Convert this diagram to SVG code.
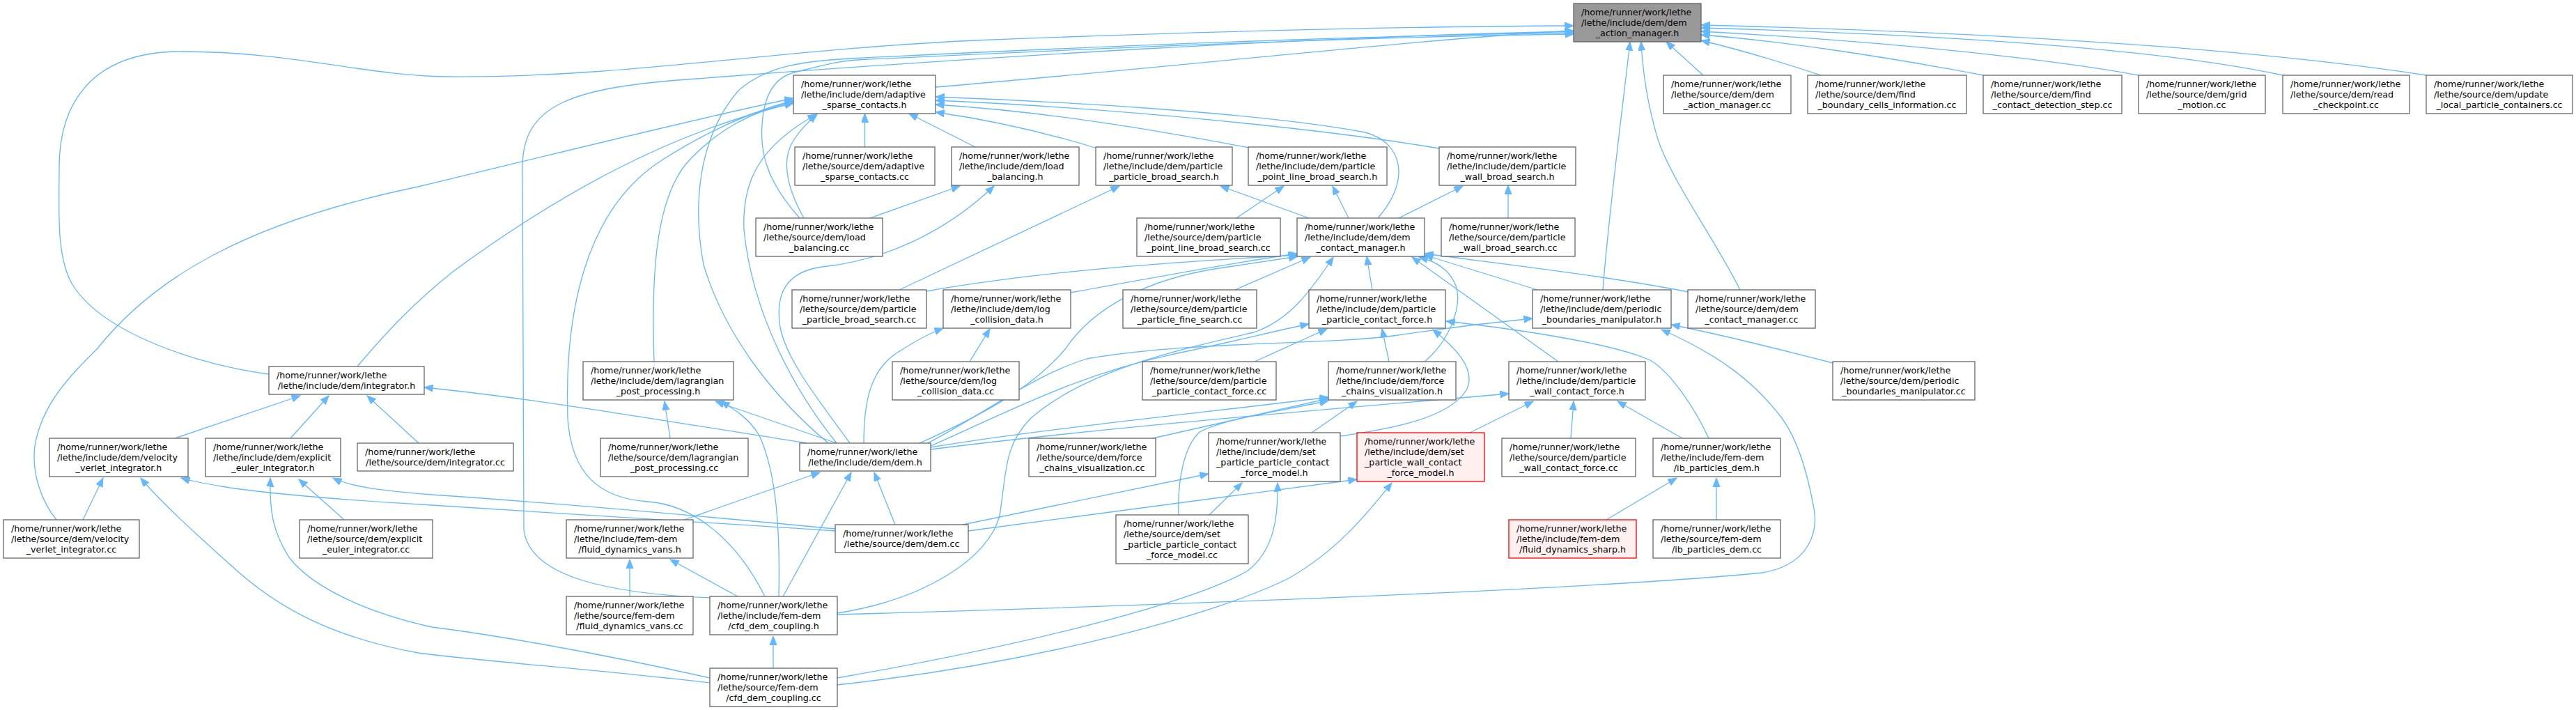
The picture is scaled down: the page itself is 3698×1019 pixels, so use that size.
<svg xmlns="http://www.w3.org/2000/svg" width="3698" height="1019" viewBox="0 0 3698 1019">
<defs>
<style>
.node rect{fill:#ffffff;stroke:#666666;stroke-width:1.3}
.main rect{fill:#999999}
.red rect{fill:#FFF0F0;stroke:#FF0000}
text{font-family:"DejaVu Sans",sans-serif;font-size:12.7px;fill:#000000}
.m{text-anchor:middle}
.edges path{fill:none;stroke:#63B8FF;stroke-width:1.3;marker-end:url(#arr)}
</style>
<marker id="arr" markerUnits="userSpaceOnUse" markerWidth="14" markerHeight="12" refX="12.5" refY="5" orient="auto"><path d="M0,0 L12.5,5 L0,10 z" fill="#63B8FF" stroke="#63B8FF" stroke-width="1"/></marker>
</defs>
<rect width="3698" height="1019" fill="#ffffff"/>
<g class="edges">
<path d="M1343,125 C1700,95 2050,55 2259,44"/>
<path d="M386,537 C290,525 150,480 105,410 C80,370 85,300 85,240 C85,150 130,74 260,74 C420,74 520,108 640,110 C900,112 1100,72 1400,58 C1800,42 2050,38 2259,37"/>
<path d="M1019,858 C880,852 760,830 752,760 L750,240 C750,150 820,125 1000,113 C1400,82 1900,52 2259,45"/>
<path d="M1189,636 C1110,570 1040,480 1010,380 C995,300 1000,200 1060,130 C1100,95 1150,88 1220,84 C1600,65 2000,50 2259,47"/>
<path d="M1148,313 C1110,270 1090,230 1094,180 C1096,140 1110,112 1140,104 C1180,94 1200,88 1230,86 C1600,68 2000,52 2259,49"/>
<path d="M2301,416 C2310,300 2330,150 2340,60"/>
<path d="M2498,416 C2460,340 2400,260 2380,200 C2365,150 2358,100 2356,60"/>
<path d="M2445,108 L2392,60"/>
<path d="M2614,108 C2560,90 2500,72 2442,58"/>
<path d="M2847,108 C2700,80 2550,58 2442,50"/>
<path d="M3070,108 C3000,95 2800,65 2442,45"/>
<path d="M3277,108 C3100,70 2800,50 2442,40"/>
<path d="M3483,108 C3200,65 2800,45 2442,36"/>
<path d="M1241.5,211 L1241.5,163"/>
<path d="M1400,211 L1305,163"/>
<path d="M1572,212 C1500,190 1420,172 1343,161"/>
<path d="M1793,212 C1650,185 1500,160 1343,150"/>
<path d="M2066,213 C1900,185 1600,155 1343,144"/>
<path d="M1978,313 C2025,260 2015,205 1960,190 C1800,160 1500,145 1343,139"/>
<path d="M1201,636 C1140,560 1080,450 1068,330 C1065,260 1090,210 1172,164"/>
<path d="M513,526 C560,470 600,430 650,390 C800,280 960,190 1139,148"/>
<path d="M939,519 C935,400 940,290 985,235 C1030,185 1080,160 1139,146"/>
<path d="M1098,856 C1060,780 1000,725 930,720 C860,715 820,680 815,600 C810,450 840,300 950,230 C1020,185 1080,160 1139,144"/>
<path d="M1154,313 C1130,270 1120,230 1140,200 C1150,185 1160,175 1173,164"/>
<path d="M81,746 C60,720 45,680 50,640 C60,580 100,540 140,500 C220,400 350,320 600,268 C800,220 1000,170 1139,141"/>
<path d="M1249,313 L1378,267"/>
<path d="M1220,636 C1180,580 1130,520 1120,470 C1112,420 1130,390 1180,383 C1260,375 1350,340 1427,267"/>
<path d="M1291,416 L1607,267"/>
<path d="M1879,313 L1752,267"/>
<path d="M1775,313 L1843,267"/>
<path d="M1936,313 L1913,267"/>
<path d="M2008,313 L2100,267"/>
<path d="M2165,313 L2165,266"/>
<path d="M1330,418 C1500,388 1700,375 1862,366"/>
<path d="M1537,420 C1650,400 1750,380 1862,364"/>
<path d="M1773,416 L1881,369"/>
<path d="M1970,416 L1962,368"/>
<path d="M2207,416 L2045,366"/>
<path d="M2424,419 C2300,395 2150,378 2045,364"/>
<path d="M2045,519 C2080,490 2100,440 2090,410 C2080,385 2060,375 2037,369"/>
<path d="M2237,519 L2027,369"/>
<path d="M1318,637 C1400,600 1480,560 1530,500 C1570,440 1650,400 1750,385 L1863,368"/>
<path d="M1202,880 C1330,860 1420,800 1435,740 C1445,680 1440,640 1480,600 C1560,530 1700,500 1800,477 C1850,460 1880,420 1914,369"/>
<path d="M1240,636 C1240,580 1248,530 1290,505 C1310,492 1330,480 1354,471"/>
<path d="M1392,519 L1421,472"/>
<path d="M1801,519 L1905,472"/>
<path d="M1994,519 L1984,472"/>
<path d="M1924,626 C2000,615 2080,600 2105,560 C2120,530 2090,500 2057,473"/>
<path d="M2453,629 C2435,590 2400,535 2369,517 C2320,495 2200,475 2076,461"/>
<path d="M1336,640 C1450,590 1550,535 1700,505 C1780,488 1830,475 1879,465"/>
<path d="M2631,521 C2550,500 2470,480 2399,466"/>
<path d="M1202,882 C1700,868 2300,845 2530,822 C2600,810 2610,760 2604,730 C2595,680 2580,630 2558,600 C2520,550 2470,510 2385,473"/>
<path d="M1330,637 C1420,590 1480,540 1560,515 C1700,490 1900,495 2000,482 C2080,470 2150,462 2200,457"/>
<path d="M251,629 L431,568"/>
<path d="M417,629 L472,568"/>
<path d="M601,636 L527,568"/>
<path d="M1158,636 C900,595 750,570 609,556"/>
<path d="M962,629 L954,576"/>
<path d="M1201,636 L1027,576"/>
<path d="M1118,856 C1120,760 1115,680 1090,625 C1075,600 1055,588 1035,576"/>
<path d="M1655,629 L1907,572"/>
<path d="M1336,642 C1500,615 1750,590 1907,570"/>
<path d="M1883,621 L1948,576"/>
<path d="M1692,739 C1690,690 1700,640 1722,620 C1760,600 1840,590 1907,575"/>
<path d="M2110,621 L2201,576"/>
<path d="M2255,629 L2259,576"/>
<path d="M2415,629 L2322,576"/>
<path d="M1336,645 C1600,612 1900,588 2166,565"/>
<path d="M119,746 L148,686"/>
<path d="M1019,980 C850,960 700,950 600,937 C480,915 400,875 330,810 C280,765 230,720 202,686"/>
<path d="M1199,762 C1000,748 800,735 620,725 C500,718 400,710 330,700 C300,695 280,692 260,686"/>
<path d="M494,746 L429,688"/>
<path d="M1019,973 C850,935 700,910 620,900 C530,880 450,845 415,800 C390,760 387,730 388,686"/>
<path d="M1199,759 C1000,740 800,722 620,710 C540,704 500,697 478,686"/>
<path d="M982,746 L1177,678"/>
<path d="M1124,856 L1222,678"/>
<path d="M1285,753 L1255,678"/>
<path d="M904,856 L904,803"/>
<path d="M1059,856 L962,803"/>
<path d="M1110,959 L1110,913"/>
<path d="M1382,753 L1735,680"/>
<path d="M1736,739 L1783,693"/>
<path d="M1202,973 C1450,930 1700,870 1790,820 C1830,790 1835,740 1834,693"/>
<path d="M1390,762 L1948,688"/>
<path d="M1202,983 C1500,950 1750,880 1850,830 C1920,790 1960,740 1998,693"/>
<path d="M2306,746 L2407,686"/>
<path d="M2464,746 L2464,686"/>
</g>
<g id="node-main" class="node main"><rect x="2259" y="5" width="183" height="55"/><text x="2270" y="21.5">/home/runner/work/lethe</text><text x="2270" y="36.5">/lethe/include/dem/dem</text><text class="m" x="2350.5" y="51.5">_action_manager.h</text></g>
<g id="node-adaptive_h" class="node"><rect x="1139" y="108" width="204" height="55"/><text x="1150" y="124.5">/home/runner/work/lethe</text><text x="1150" y="139.5">/lethe/include/dem/adaptive</text><text class="m" x="1241" y="154.5">_sparse_contacts.h</text></g>
<g id="node-dam_cc" class="node"><rect x="2388" y="108" width="183" height="55"/><text x="2399" y="124.5">/home/runner/work/lethe</text><text x="2399" y="139.5">/lethe/source/dem/dem</text><text class="m" x="2479.5" y="154.5">_action_manager.cc</text></g>
<g id="node-fbci_cc" class="node"><rect x="2595" y="108" width="228" height="55"/><text x="2606" y="124.5">/home/runner/work/lethe</text><text x="2606" y="139.5">/lethe/source/dem/find</text><text class="m" x="2709" y="154.5">_boundary_cells_information.cc</text></g>
<g id="node-fcds_cc" class="node"><rect x="2847" y="108" width="199" height="55"/><text x="2858" y="124.5">/home/runner/work/lethe</text><text x="2858" y="139.5">/lethe/source/dem/find</text><text class="m" x="2946.5" y="154.5">_contact_detection_step.cc</text></g>
<g id="node-gm_cc" class="node"><rect x="3070" y="108" width="182" height="55"/><text x="3081" y="124.5">/home/runner/work/lethe</text><text x="3081" y="139.5">/lethe/source/dem/grid</text><text class="m" x="3161" y="154.5">_motion.cc</text></g>
<g id="node-rc_cc" class="node"><rect x="3277" y="108" width="182" height="55"/><text x="3288" y="124.5">/home/runner/work/lethe</text><text x="3288" y="139.5">/lethe/source/dem/read</text><text class="m" x="3368" y="154.5">_checkpoint.cc</text></g>
<g id="node-ulpc_cc" class="node"><rect x="3483" y="108" width="210" height="55"/><text x="3494" y="124.5">/home/runner/work/lethe</text><text x="3494" y="139.5">/lethe/source/dem/update</text><text class="m" x="3588" y="154.5">_local_particle_containers.cc</text></g>
<g id="node-adaptive_cc" class="node"><rect x="1141" y="211" width="201" height="55"/><text x="1152" y="227.5">/home/runner/work/lethe</text><text x="1152" y="242.5">/lethe/source/dem/adaptive</text><text class="m" x="1241.5" y="257.5">_sparse_contacts.cc</text></g>
<g id="node-lb_h" class="node"><rect x="1366" y="211" width="183" height="55"/><text x="1377" y="227.5">/home/runner/work/lethe</text><text x="1377" y="242.5">/lethe/include/dem/load</text><text class="m" x="1457.5" y="257.5">_balancing.h</text></g>
<g id="node-ppbs_h" class="node"><rect x="1573" y="211" width="196" height="55"/><text x="1584" y="227.5">/home/runner/work/lethe</text><text x="1584" y="242.5">/lethe/include/dem/particle</text><text class="m" x="1671" y="257.5">_particle_broad_search.h</text></g>
<g id="node-pplbs_h" class="node"><rect x="1792" y="211" width="199" height="55"/><text x="1803" y="227.5">/home/runner/work/lethe</text><text x="1803" y="242.5">/lethe/include/dem/particle</text><text class="m" x="1891.5" y="257.5">_point_line_broad_search.h</text></g>
<g id="node-pwbs_h" class="node"><rect x="2066" y="211" width="196" height="55"/><text x="2077" y="227.5">/home/runner/work/lethe</text><text x="2077" y="242.5">/lethe/include/dem/particle</text><text class="m" x="2164" y="257.5">_wall_broad_search.h</text></g>
<g id="node-lb_cc" class="node"><rect x="1085" y="313" width="182" height="55"/><text x="1096" y="329.5">/home/runner/work/lethe</text><text x="1096" y="344.5">/lethe/source/dem/load</text><text class="m" x="1176" y="359.5">_balancing.cc</text></g>
<g id="node-pplbs_cc" class="node"><rect x="1632" y="313" width="206" height="55"/><text x="1643" y="329.5">/home/runner/work/lethe</text><text x="1643" y="344.5">/lethe/source/dem/particle</text><text class="m" x="1735" y="359.5">_point_line_broad_search.cc</text></g>
<g id="node-dcm_h" class="node"><rect x="1862" y="313" width="183" height="55"/><text x="1873" y="329.5">/home/runner/work/lethe</text><text x="1873" y="344.5">/lethe/include/dem/dem</text><text class="m" x="1953.5" y="359.5">_contact_manager.h</text></g>
<g id="node-pwbs_cc" class="node"><rect x="2069" y="313" width="192" height="55"/><text x="2080" y="329.5">/home/runner/work/lethe</text><text x="2080" y="344.5">/lethe/source/dem/particle</text><text class="m" x="2165" y="359.5">_wall_broad_search.cc</text></g>
<g id="node-ppbs_cc" class="node"><rect x="1137" y="416" width="193" height="55"/><text x="1148" y="432.5">/home/runner/work/lethe</text><text x="1148" y="447.5">/lethe/source/dem/particle</text><text class="m" x="1233.5" y="462.5">_particle_broad_search.cc</text></g>
<g id="node-lcd_h" class="node"><rect x="1354" y="416" width="183" height="55"/><text x="1365" y="432.5">/home/runner/work/lethe</text><text x="1365" y="447.5">/lethe/include/dem/log</text><text class="m" x="1445.5" y="462.5">_collision_data.h</text></g>
<g id="node-ppfs_cc" class="node"><rect x="1612" y="416" width="192" height="55"/><text x="1623" y="432.5">/home/runner/work/lethe</text><text x="1623" y="447.5">/lethe/source/dem/particle</text><text class="m" x="1708" y="462.5">_particle_fine_search.cc</text></g>
<g id="node-ppcf_h" class="node"><rect x="1879" y="416" width="196" height="55"/><text x="1890" y="432.5">/home/runner/work/lethe</text><text x="1890" y="447.5">/lethe/include/dem/particle</text><text class="m" x="1977" y="462.5">_particle_contact_force.h</text></g>
<g id="node-pbm_h" class="node"><rect x="2200" y="416" width="199" height="55"/><text x="2211" y="432.5">/home/runner/work/lethe</text><text x="2211" y="447.5">/lethe/include/dem/periodic</text><text class="m" x="2299.5" y="462.5">_boundaries_manipulator.h</text></g>
<g id="node-dcm_cc" class="node"><rect x="2423" y="416" width="183" height="55"/><text x="2434" y="432.5">/home/runner/work/lethe</text><text x="2434" y="447.5">/lethe/source/dem/dem</text><text class="m" x="2514.5" y="462.5">_contact_manager.cc</text></g>
<g id="node-int_h" class="node"><rect x="386" y="526" width="223" height="40"/><text x="397" y="542.5">/home/runner/work/lethe</text><text class="m" x="497.5" y="557.5">/lethe/include/dem/integrator.h</text></g>
<g id="node-lpp_h" class="node"><rect x="837" y="519" width="216" height="55"/><text x="848" y="535.5">/home/runner/work/lethe</text><text x="848" y="550.5">/lethe/include/dem/lagrangian</text><text class="m" x="945" y="565.5">_post_processing.h</text></g>
<g id="node-lcd_cc" class="node"><rect x="1281" y="519" width="182" height="55"/><text x="1292" y="535.5">/home/runner/work/lethe</text><text x="1292" y="550.5">/lethe/source/dem/log</text><text class="m" x="1372" y="565.5">_collision_data.cc</text></g>
<g id="node-ppcf_cc" class="node"><rect x="1640" y="519" width="192" height="55"/><text x="1651" y="535.5">/home/runner/work/lethe</text><text x="1651" y="550.5">/lethe/source/dem/particle</text><text class="m" x="1736" y="565.5">_particle_contact_force.cc</text></g>
<g id="node-fcv_h" class="node"><rect x="1907" y="519" width="183" height="55"/><text x="1918" y="535.5">/home/runner/work/lethe</text><text x="1918" y="550.5">/lethe/include/dem/force</text><text class="m" x="1998.5" y="565.5">_chains_visualization.h</text></g>
<g id="node-pwcf_h" class="node"><rect x="2166" y="519" width="196" height="55"/><text x="2177" y="535.5">/home/runner/work/lethe</text><text x="2177" y="550.5">/lethe/include/dem/particle</text><text class="m" x="2264" y="565.5">_wall_contact_force.h</text></g>
<g id="node-pbm_cc" class="node"><rect x="2631" y="519" width="204" height="55"/><text x="2642" y="535.5">/home/runner/work/lethe</text><text x="2642" y="550.5">/lethe/source/dem/periodic</text><text class="m" x="2733" y="565.5">_boundaries_manipulator.cc</text></g>
<g id="node-vv_h" class="node"><rect x="71" y="629" width="199" height="55"/><text x="82" y="645.5">/home/runner/work/lethe</text><text x="82" y="660.5">/lethe/include/dem/velocity</text><text class="m" x="170.5" y="675.5">_verlet_integrator.h</text></g>
<g id="node-ee_h" class="node"><rect x="295" y="629" width="194" height="55"/><text x="306" y="645.5">/home/runner/work/lethe</text><text x="306" y="660.5">/lethe/include/dem/explicit</text><text class="m" x="392" y="675.5">_euler_integrator.h</text></g>
<g id="node-int_cc" class="node"><rect x="513" y="636" width="224" height="40"/><text x="524" y="652.5">/home/runner/work/lethe</text><text class="m" x="625" y="667.5">/lethe/source/dem/integrator.cc</text></g>
<g id="node-lpp_cc" class="node"><rect x="862" y="629" width="212" height="55"/><text x="873" y="645.5">/home/runner/work/lethe</text><text x="873" y="660.5">/lethe/source/dem/lagrangian</text><text class="m" x="968" y="675.5">_post_processing.cc</text></g>
<g id="node-dem_h" class="node"><rect x="1148" y="636" width="188" height="40"/><text x="1159" y="652.5">/home/runner/work/lethe</text><text class="m" x="1242" y="667.5">/lethe/include/dem/dem.h</text></g>
<g id="node-fcv_cc" class="node"><rect x="1477" y="629" width="182" height="55"/><text x="1488" y="645.5">/home/runner/work/lethe</text><text x="1488" y="660.5">/lethe/source/dem/force</text><text class="m" x="1568" y="675.5">_chains_visualization.cc</text></g>
<g id="node-sppcfm_h" class="node"><rect x="1735" y="621" width="189" height="70"/><text x="1746" y="637.5">/home/runner/work/lethe</text><text x="1746" y="652.5">/lethe/include/dem/set</text><text x="1746" y="667.5">_particle_particle_contact</text><text class="m" x="1829.5" y="682.5">_force_model.h</text></g>
<g id="node-spwcfm_h" class="node red"><rect x="1948" y="621" width="183" height="70"/><text x="1959" y="637.5">/home/runner/work/lethe</text><text x="1959" y="652.5">/lethe/include/dem/set</text><text x="1959" y="667.5">_particle_wall_contact</text><text class="m" x="2039.5" y="682.5">_force_model.h</text></g>
<g id="node-pwcf_cc" class="node"><rect x="2156" y="629" width="192" height="55"/><text x="2167" y="645.5">/home/runner/work/lethe</text><text x="2167" y="660.5">/lethe/source/dem/particle</text><text class="m" x="2252" y="675.5">_wall_contact_force.cc</text></g>
<g id="node-ib_h" class="node"><rect x="2373" y="629" width="183" height="55"/><text x="2384" y="645.5">/home/runner/work/lethe</text><text x="2384" y="660.5">/lethe/include/fem-dem</text><text class="m" x="2464.5" y="675.5">/ib_particles_dem.h</text></g>
<g id="node-vv_cc" class="node"><rect x="5" y="746" width="195" height="55"/><text x="16" y="762.5">/home/runner/work/lethe</text><text x="16" y="777.5">/lethe/source/dem/velocity</text><text class="m" x="102.5" y="792.5">_verlet_integrator.cc</text></g>
<g id="node-ee_cc" class="node"><rect x="430" y="746" width="191" height="55"/><text x="441" y="762.5">/home/runner/work/lethe</text><text x="441" y="777.5">/lethe/source/dem/explicit</text><text class="m" x="525.5" y="792.5">_euler_integrator.cc</text></g>
<g id="node-fdv_h" class="node"><rect x="813" y="746" width="182" height="55"/><text x="824" y="762.5">/home/runner/work/lethe</text><text x="824" y="777.5">/lethe/include/fem-dem</text><text class="m" x="904" y="792.5">/fluid_dynamics_vans.h</text></g>
<g id="node-dem_cc" class="node"><rect x="1199" y="753" width="191" height="40"/><text x="1210" y="769.5">/home/runner/work/lethe</text><text class="m" x="1294.5" y="784.5">/lethe/source/dem/dem.cc</text></g>
<g id="node-sppcfm_cc" class="node"><rect x="1602" y="739" width="190" height="70"/><text x="1613" y="755.5">/home/runner/work/lethe</text><text x="1613" y="770.5">/lethe/source/dem/set</text><text x="1613" y="785.5">_particle_particle_contact</text><text class="m" x="1697" y="800.5">_force_model.cc</text></g>
<g id="node-fds_h" class="node red"><rect x="2166" y="746" width="183" height="55"/><text x="2177" y="762.5">/home/runner/work/lethe</text><text x="2177" y="777.5">/lethe/include/fem-dem</text><text class="m" x="2257.5" y="792.5">/fluid_dynamics_sharp.h</text></g>
<g id="node-ib_cc" class="node"><rect x="2373" y="746" width="183" height="55"/><text x="2384" y="762.5">/home/runner/work/lethe</text><text x="2384" y="777.5">/lethe/source/fem-dem</text><text class="m" x="2464.5" y="792.5">/ib_particles_dem.cc</text></g>
<g id="node-fdv_cc" class="node"><rect x="813" y="856" width="182" height="55"/><text x="824" y="872.5">/home/runner/work/lethe</text><text x="824" y="887.5">/lethe/source/fem-dem</text><text class="m" x="904" y="902.5">/fluid_dynamics_vans.cc</text></g>
<g id="node-cfd_h" class="node"><rect x="1019" y="856" width="183" height="55"/><text x="1030" y="872.5">/home/runner/work/lethe</text><text x="1030" y="887.5">/lethe/include/fem-dem</text><text class="m" x="1110.5" y="902.5">/cfd_dem_coupling.h</text></g>
<g id="node-cfd_cc" class="node"><rect x="1019" y="959" width="183" height="55"/><text x="1030" y="975.5">/home/runner/work/lethe</text><text x="1030" y="990.5">/lethe/source/fem-dem</text><text class="m" x="1110.5" y="1005.5">/cfd_dem_coupling.cc</text></g>
</svg>
